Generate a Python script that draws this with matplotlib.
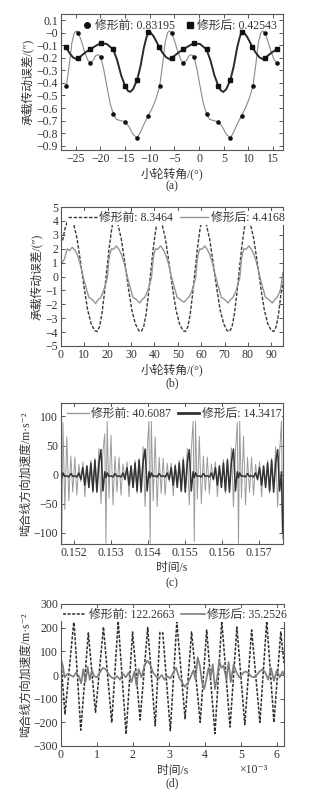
import numpy as np
import matplotlib
matplotlib.use("Agg")
import matplotlib.pyplot as plt
from matplotlib.lines import Line2D
from matplotlib.ticker import FuncFormatter

plt.rcParams['font.family'] = ['Liberation Serif', 'DejaVu Serif', 'Noto Sans CJK SC']
plt.rcParams['font.size'] = 8.5
plt.rcParams['axes.unicode_minus'] = True

TXT = '#333333'

###############################################################################
# (a) loaded transmission error vs pinion angle
###############################################################################
a_before_x = [-26.9, -26.3, -25.8, -25.3, -24.9, -24.5, -24.0, -23.3, -22.6, -22.1, -21.5, -20.9, -20.4,
              -19.9, -19.3, -18.6, -18.0, -17.4, -16.8, -16.0, -15.0, -14.2, -13.4, -12.6, -12.0, -11.2,
              -10.3, -9.5, -8.7,
              -8.0, -7.4, -6.9, -6.4, -6.0, -5.6, -5.1, -4.4, -3.7, -3.2, -2.6, -2.0, -1.5,
              -1.0, -0.4, 0.3, 0.9, 1.5, 2.1, 2.9, 3.9, 4.7, 5.5, 6.3, 6.9, 7.7,
              8.6, 9.4, 10.2,
              10.9, 11.5, 12.0, 12.5, 12.9, 13.3, 13.8, 14.5, 15.2, 15.8]
a_before_y = [-0.425, -0.25, -0.08, 0.0, 0.015, 0.0, -0.05, -0.14, -0.215, -0.24, -0.22, -0.18, -0.175,
              -0.195, -0.3, -0.45, -0.57, -0.645, -0.69, -0.70, -0.71, -0.75, -0.81, -0.84, -0.80, -0.73,
              -0.66, -0.60, -0.52,
              -0.425, -0.25, -0.08, 0.0, 0.015, 0.0, -0.05, -0.14, -0.215, -0.24, -0.22, -0.18, -0.175,
              -0.195, -0.3, -0.45, -0.57, -0.645, -0.69, -0.70, -0.71, -0.75, -0.81, -0.84, -0.80, -0.73,
              -0.66, -0.60, -0.52,
              -0.425, -0.25, -0.08, 0.0, 0.015, 0.0, -0.05, -0.14, -0.215, -0.24]
a_before_marks = [0, 5, 9, 13, 17, 20, 23, 26, 29, 34, 38, 42, 46, 49, 52, 55, 58, 63, 67]

a_after_x = [-27.0, -26.3, -25.6, -24.9, -24.5, -23.8, -23.0, -22.1, -21.0, -19.9, -18.7, -17.4, -16.6,
             -15.8, -15.0, -14.5, -14.0, -13.4, -12.6, -11.9, -11.2, -10.7, -10.3, -9.8, -9.2, -8.6,
             -8.1, -7.4, -6.7, -6.0, -5.6, -4.9, -4.1, -3.2, -2.1, -1.0, 0.2, 1.5, 2.3,
             3.1, 3.9, 4.4, 4.9, 5.5, 6.3, 7.0, 7.7, 8.2, 8.6, 9.1, 9.7, 10.3,
             10.8, 11.5, 12.2, 12.9, 13.3, 14.0, 14.8, 15.7]
a_after_y = [-0.115, -0.16, -0.195, -0.21, -0.205, -0.18, -0.155, -0.133, -0.105, -0.082, -0.09, -0.133, -0.22,
             -0.34, -0.425, -0.46, -0.472, -0.45, -0.38, -0.27, -0.12, -0.04, 0.005, 0.0, -0.03, -0.075,
             -0.115, -0.16, -0.195, -0.21, -0.205, -0.18, -0.155, -0.133, -0.105, -0.082, -0.09, -0.133, -0.22,
             -0.34, -0.425, -0.46, -0.472, -0.45, -0.38, -0.27, -0.12, -0.04, 0.005, 0.0, -0.03, -0.075,
             -0.115, -0.16, -0.195, -0.21, -0.205, -0.18, -0.155, -0.133]
a_after_marks = [0, 4, 7, 9, 11, 14, 18, 22, 26, 30, 33, 35, 37, 40, 44, 48, 52, 56, 59]

###############################################################################
# (b) transmission error, second case
###############################################################################
b_before_x = [0.7, 1.8, 2.8, 3.9, 5.4, 6.9, 8.4, 9.9, 11.4, 12.9, 14.4, 15.5, 16.5, 17.5, 18.5, 19.5, 20.5, 21.5, 22.2,
              22.8, 24.3, 25.8, 27.3, 28.8, 30.3, 31.8, 33.3, 34.4, 35.4, 36.4, 37.4, 38.4, 39.4, 40.4, 41.1,
              41.7, 43.2, 44.7, 46.2, 47.7, 49.2, 50.7, 52.2, 53.3, 54.3, 55.3, 56.3, 57.3, 58.3, 59.3, 60.0,
              60.6, 62.1, 63.6, 65.1, 66.6, 68.1, 69.6, 71.1, 72.2, 73.2, 74.2, 75.2, 76.2, 77.2, 78.2, 78.9,
              79.5, 81.0, 82.5, 84.0, 85.5, 87.0, 88.5, 90.0, 91.1, 92.1, 93.1, 94.1, 95.0]
b_before_y = [2.6, 3.5, 4.0,
              4.15, 3.8, 2.7, 1.0, -0.8, -2.4, -3.4, -3.9, -3.95, -3.6, -2.7, -1.3, 0.3, 1.9, 3.2, 3.9,
              4.2, 3.8, 2.7, 1.0, -0.8, -2.4, -3.4, -3.9, -3.95, -3.6, -2.7, -1.3, 0.3, 1.9, 3.2, 3.9,
              4.2, 3.8, 2.7, 1.0, -0.8, -2.4, -3.4, -3.9, -3.95, -3.6, -2.7, -1.3, 0.3, 1.9, 3.2, 3.9,
              4.2, 3.8, 2.7, 1.0, -0.8, -2.4, -3.4, -3.9, -3.95, -3.6, -2.7, -1.3, 0.3, 1.9, 3.2, 3.9,
              4.2, 3.8, 2.7, 1.0, -0.8, -2.4, -3.4, -3.9, -3.95, -3.6, -2.7, -1.3, -0.4]
b_after_x = [0.7, 1.6, 2.0, 2.7, 3.6,
             4.8, 5.9, 6.9, 7.9, 8.9, 9.9, 10.9, 11.9, 12.9, 13.9, 14.8, 15.9, 16.9, 18.3, 19.8, 20.5, 20.9, 21.6, 22.5,
             23.7, 24.8, 25.8, 26.8, 27.8, 28.8, 29.8, 30.8, 31.8, 32.8, 33.7, 34.8, 35.8, 37.2, 38.7, 39.4, 39.8, 40.5, 41.4,
             42.6, 43.7, 44.7, 45.7, 46.7, 47.7, 48.7, 49.7, 50.7, 51.7, 52.6, 53.7, 54.7, 56.1, 57.6, 58.3, 58.7, 59.4, 60.3,
             61.5, 62.6, 63.6, 64.6, 65.6, 66.6, 67.6, 68.6, 69.6, 70.6, 71.5, 72.6, 73.6, 75.0, 76.5, 77.2, 77.6, 78.3, 79.2,
             80.4, 81.5, 82.5, 83.5, 84.5, 85.5, 86.5, 87.5, 88.5, 89.5, 90.4, 91.5, 92.5, 93.9, 95.0]
b_after_y = [1.05, 1.3, 1.6, 2.0, 1.85,
             2.1, 1.9, 1.6, 1.1, 0.4, -0.3, -0.9, -1.5, -1.6, -1.75, -1.95, -1.65, -1.55, -1.0, -0.1, 1.2, 1.6, 2.0, 1.95,
             2.2, 1.95, 1.6, 1.1, 0.4, -0.3, -0.9, -1.5, -1.6, -1.75, -1.9, -1.65, -1.5, -1.0, -0.1, 1.2, 1.6, 2.0, 1.95,
             2.2, 1.95, 1.6, 1.1, 0.4, -0.3, -0.9, -1.5, -1.6, -1.75, -1.85, -1.65, -1.5, -1.0, -0.1, 1.2, 1.6, 2.0, 1.95,
             2.2, 1.95, 1.6, 1.1, 0.4, -0.3, -0.9, -1.5, -1.6, -1.75, -1.9, -1.65, -1.5, -1.0, -0.1, 1.2, 1.6, 2.0, 1.95,
             2.2, 1.95, 1.6, 1.1, 0.4, -0.3, -0.9, -1.5, -1.6, -1.75, -1.9, -1.65, -1.5, -1.0, 0.3]

###############################################################################
# (c) acceleration along line of action (time domain)
###############################################################################
c_u = [0, 1.2, 3, 5, 7, 9, 11, 13, 15, 17, 19, 21, 23, 25, 27, 29, 31, 33, 35, 37, 39, 41, 42.8]
c_spikes = [0.151671, 0.152863, 0.154055, 0.155247, 0.156439, 0.157631]
c_period = 0.001192
c_before = [
    [-118, 90, -60, 65, -45, 32, -30, 30, -35, 18, -12, 22, -38, 15, -22, 25, -32, 28, -25, 45, -50, 40, 70],
    [-118, 92, -40, 68, -52, 32, -30, 30, -35, 18, -10, 22, -38, 15, -22, 25, -32, 28, -25, 48, -55, 40, 92],
    [-118, 92, -45, 65, -55, 30, -32, 28, -35, 20, -12, 20, -36, 18, -20, 25, -30, 30, -28, 45, -52, 42, 92],
    [-115, 92, -42, 66, -50, 32, -28, 30, -33, 18, -10, 22, -38, 15, -22, 26, -32, 28, -25, 46, -55, 40, 90],
    [-118, 92, -40, 66, -52, 30, -30, 30, -35, 18, -10, 22, -38, 15, -22, 25, -32, 28, -25, 48, -55, 40, 92],
    [-110]]
c_after = [
    [-5, 3, -3, -2, -4, 2, -3, -2, -4, 3, -8, 12, -18, 15, -22, 20, -28, 25, -30, 20, 43, -28, 5],
    [-5, 3, -3, -2, -4, 2, -3, -2, -4, 3, -8, 12, -18, 15, -22, 20, -28, 25, -30, 22, 44, -28, 5],
    [-5, 3, -3, -2, -4, 2, -3, -2, -4, 3, -8, 12, -18, 15, -22, 20, -28, 25, -30, 20, 43, -28, 5],
    [-5, 3, -3, -2, -4, 2, -3, -2, -4, 3, -8, 12, -18, 15, -22, 20, -28, 25, -30, 22, 44, -28, 5],
    [-5, 3, -3, -2, -4, 2, -3, -2, -4, 3, -8, 12, -18, 15, -22, 20, -28, 25, -30, 20, 43, -28, 5],
    [-100]]

###############################################################################
# (d) acceleration, second case (x in ms)
###############################################################################
d_before_x = [0.00, 0.11, 0.36, 0.55, 0.76, 0.96, 1.18, 1.41, 1.59, 1.81, 1.99, 2.20, 2.41, 2.62, 2.75, 2.83,
              3.04, 3.22, 3.45, 3.63, 3.87, 4.05, 4.28, 4.47, 4.70, 4.89, 5.11, 5.30, 5.53, 5.72, 5.92, 6.11, 6.20]
d_before_y = [60, -165, 232, -233, 178, -158, 203, -201, 229, -250, 182, -190, 201, -215, 180, 178,
              -235, 225, -185, 182, -200, 190, -248, 229, -220, 203, -210, 190, -200, 229, -200, 182, 50]
d_after_x = [0.00, 0.05, 0.10, 0.18, 0.26, 0.34, 0.42, 0.50, 0.56, 0.62, 0.68, 0.74, 0.80, 0.86, 0.92, 1.00,
             1.08, 1.16, 1.24, 1.32, 1.40, 1.48, 1.56, 1.64, 1.72, 1.80, 1.88, 1.96, 2.04, 2.10, 2.16, 2.24,
             2.32, 2.40, 2.48, 2.56, 2.64, 2.72, 2.80, 2.88, 2.96, 3.04, 3.12, 3.20, 3.28, 3.36, 3.44, 3.52,
             3.60, 3.68, 3.74, 3.80, 3.86, 3.92, 3.98, 4.04, 4.10, 4.16, 4.22, 4.28, 4.34, 4.40, 4.46, 4.52,
             4.60, 4.66, 4.72, 4.80, 4.88, 4.96, 5.04, 5.12, 5.20, 5.28, 5.36, 5.44, 5.52, 5.60, 5.68, 5.76,
             5.84, 5.92, 6.00, 6.08, 6.16, 6.20]
d_after_y = [65, 40, -10, 5, 0, -8, 10, -5, -35, 25, -30, 35, -20, 20, -5, -10,
             10, 30, 25, 5, -10, -15, -5, -20, 5, -10, 10, -30, 15, -45, 25, -10,
             40, 60, 45, 10, -5, -15, 0, -20, -5, -15, 10, 30, -10, -30, -50, -35,
             -10, 20, -20, 75, 40, -30, -60, -20, 30, -10, 45, -60, -10, 60, 30, 40,
             -20, 55, -30, 45, 10, -10, 5, 15, 10, -5, -10, 0, 15, 25, 10, -20,
             30, -25, 20, -10, 15, 0]

###############################################################################

def style_axes(ax):
    for s in ax.spines.values():
        s.set_color('#555555')
        s.set_linewidth(0.8)
    ax.tick_params(direction='in', top=True, right=True, length=3, width=0.7,
                   colors='#555555', labelcolor=TXT, labelsize=8.5, pad=2)

def white_legend(ax, handles, labels, anchor=0.5, **kw):
    # white box hides the curve tops behind the text, kept clear of the top spine ticks
    leg = ax.legend(handles, labels, loc='upper center', bbox_to_anchor=(anchor, 1.0), ncol=2,
                    fontsize=8.5, frameon=True, borderaxespad=0.3, borderpad=0.1,
                    handletextpad=0.2, columnspacing=0.6, labelcolor=TXT, **kw)
    leg.get_frame().set_facecolor('white')
    leg.get_frame().set_edgecolor('none')
    leg.get_frame().set_alpha(1.0)
    return leg

fig = plt.figure(figsize=(3.26, 7.90), dpi=100)
W, H = 326.0, 790.0

def add_axes(l, r, t, b):
    return fig.add_axes([l / W, 1 - b / H, (r - l) / W, (b - t) / H])

gfmt = FuncFormatter(lambda v, p: ('%g' % v).replace('-', '\u2212'))

# ---------------- (a)
ax = add_axes(61, 283, 14, 150)
ax.plot(a_before_x, a_before_y, color='#8a8a8a', lw=0.8, marker='o', ms=2.3,
        mfc='#111111', mec='#111111', markevery=a_before_marks)
ax.plot(a_after_x, a_after_y, color='#2a2a2a', lw=1.4, marker='s', ms=2.3,
        mfc='#111111', mec='#111111', markevery=a_after_marks)
ax.set_xlim(-28, 17)
ax.set_ylim(-0.935, 0.15)
ax.set_xticks(np.arange(-25, 16, 5))
ax.set_yticks(np.round(np.arange(-0.9, 0.11, 0.1), 1))
ax.yaxis.set_major_formatter(gfmt)
ax.xaxis.set_major_formatter(gfmt)
style_axes(ax)
h = [Line2D([], [], ls='none', marker='o', color='#111111', ms=4),
     Line2D([], [], ls='none', marker='s', color='#111111', ms=4)]
leg = ax.legend(h, ['修形前: 0.83195', '修形后: 0.42543'], loc='upper center',
                bbox_to_anchor=(0.535, 1.0), ncol=2, fontsize=8.5, frameon=False,
                borderaxespad=0.1, handlelength=0.8, handletextpad=0.2,
                columnspacing=0.9, labelcolor=TXT)
ax.set_ylabel('承载传动误差/(″)', color=TXT, fontsize=8.5, labelpad=2)
ax.set_xlabel('小轮转角/(°)', color=TXT, fontsize=8.5, labelpad=2)
fig.text(0.5 * (61 + 283) / W, 1 - 186 / H, '(a)', ha='center', va='center', color=TXT, fontsize=8.5)

# ---------------- (b)
ax = add_axes(61, 283, 207, 346)
ax.plot(b_before_x, b_before_y, color='#3a3a3a', lw=1.0, ls=(0, (2.5, 1.2)))
ax.plot(b_after_x, b_after_y, color='#959595', lw=1.0)
ax.set_xlim(0, 95)
ax.set_ylim(-5, 5)
ax.set_xticks(np.arange(0, 91, 10))
ax.set_yticks(np.arange(-5, 6, 1))
ax.yaxis.set_major_formatter(gfmt)
style_axes(ax)
h = [Line2D([], [], color='#3a3a3a', lw=1.0, ls=(0, (2.5, 1.2))),
     Line2D([], [], color='#959595', lw=1.0)]
white_legend(ax, h, ['修形前: 8.3464', '修形后: 4.4168'], anchor=0.52, handlelength=2.4)
ax.set_ylabel('承载传动误差/(″)', color=TXT, fontsize=8.5, labelpad=2)
ax.set_xlabel('小轮转角/(°)', color=TXT, fontsize=8.5, labelpad=2)
fig.text(0.5 * (61 + 283) / W, 1 - 383 / H, '(b)', ha='center', va='center', color=TXT, fontsize=8.5)

# ---------------- (c)
c_t, c_y1, c_y2 = [], [], []
for k, s in enumerate(c_spikes):
    n = len(c_before[k])
    c_t += [s + u * c_period / 44.0 for u in c_u[:n]]
    c_y1 += c_before[k]
    c_y2 += c_after[k]

ax = add_axes(61, 283, 403, 544)
ax.plot(c_t, c_y1, color='#9a9a9a', lw=0.7)
ax.plot(c_t, c_y2, color='#333333', lw=1.1)
ax.set_xlim(0.15165, 0.15764)
ax.set_ylim(-119, 123)
ax.set_xticks([0.152, 0.153, 0.154, 0.155, 0.156, 0.157])
ax.xaxis.set_major_formatter(FuncFormatter(lambda v, p: '%.3f' % v))
ax.set_yticks([-100, -50, 0, 50, 100])
ax.yaxis.set_major_formatter(gfmt)
style_axes(ax)
h = [Line2D([], [], color='#9a9a9a', lw=1.0), Line2D([], [], color='#333333', lw=2.0)]
white_legend(ax, h, ['修形前: 40.6087', '修形后: 14.3417'], anchor=0.51, handlelength=1.8)
ax.set_ylabel('啮合线方向加速度/m·s⁻²', color=TXT, fontsize=8.5, labelpad=1)
ax.set_xlabel('时间/s', color=TXT, fontsize=8.5, labelpad=2)
fig.text(0.5 * (61 + 283) / W, 1 - 583 / H, '(c)', ha='center', va='center', color=TXT, fontsize=8.5)

# ---------------- (d)
ax = add_axes(61, 284, 604, 746)
ax.plot(np.array(d_before_x) * 1e-3, d_before_y, color='#2e2e2e', lw=1.1, ls=(0, (2.0, 1.0)))
ax.plot(np.array(d_after_x) * 1e-3, d_after_y, color='#7e7e7e', lw=1.2)
ax.set_xlim(0, 6.2e-3)
ax.set_ylim(-300, 300)
ax.set_xticks(np.arange(0, 7) * 1e-3)
ax.xaxis.set_major_formatter(FuncFormatter(lambda v, p: '%g' % round(v * 1e3, 6)))
ax.set_yticks(np.arange(-300, 301, 100))
ax.yaxis.set_major_formatter(gfmt)
style_axes(ax)
h = [Line2D([], [], color='#2e2e2e', lw=1.1, ls=(0, (2.0, 1.0))),
     Line2D([], [], color='#7e7e7e', lw=1.2)]
white_legend(ax, h, ['修形前: 122.2663', '修形后: 35.2526'], anchor=0.51, handlelength=2.0)
ax.set_ylabel('啮合线方向加速度/m·s⁻²', color=TXT, fontsize=8.5, labelpad=1)
ax.set_xlabel('时间/s', color=TXT, fontsize=8.5, labelpad=3)
ax.text(0.86, -0.17, '×10⁻³', transform=ax.transAxes, ha='center', va='center',
        color=TXT, fontsize=8.5)
fig.text(0.5 * (61 + 284) / W, 1 - 783 / H, '(d)', ha='center', va='center', color=TXT, fontsize=8.5)

fig.savefig('out.png', dpi=100, facecolor='white')
